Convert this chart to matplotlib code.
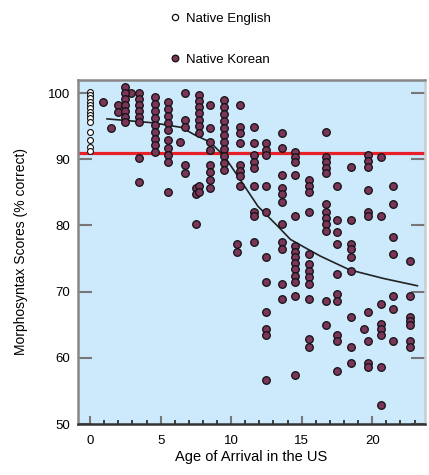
import matplotlib
matplotlib.use("Agg")
import matplotlib.pyplot as plt
from matplotlib.lines import Line2D
from matplotlib.ticker import MultipleLocator

plt.rcParams['font.family'] = ['Liberation Sans', 'DejaVu Sans']

# Native English speakers (all arrived at age 0)
eng_age = [0] * 14
eng_score = [100.2, 99.7, 99.2, 98.7, 98.2, 97.7, 97.2, 96.7, 96.2, 95.7,
             94.1, 92.9, 91.9, 91.3]

# Native Korean speakers, read column by column
kor_age = (
    [0.9, 1.5]
    + [2.0, 2.0, 2.9]
    + [2.5] * 7
    + [3.5] * 8
    + [4.6] * 9
    + [5.5] * 10
    + [6.4, 6.7, 6.7, 6.7, 6.7, 6.7, 7.5, 7.5, 7.5]
    + [7.7] * 9
    + [8.5] * 8
    + [9.5] * 11
    + [10.6] * 8 + [10.4, 10.4]
    + [11.6] * 9
    + [12.5] * 11
    + [13.6] * 11
    + [14.5] * 14
    + [15.5] * 12
    + [16.7] * 12
    + [17.5] * 10
    + [18.5] * 9
    + [19.4]
    + [19.7] * 10
    + [20.6] * 8
    + [21.5] * 7
    + [22.7] * 7
)
kor_score = (
    [98.6, 94.7]
    + [98.2, 97.1, 100.0]
    + [100.9, 100.0, 99.1, 98.2, 97.3, 96.4, 95.6]
    + [100.0, 99.1, 98.2, 97.3, 96.4, 95.6, 90.2, 86.6]
    + [99.4, 98.3, 97.3, 96.2, 95.2, 94.1, 93.1, 92.2, 91.1]
    + [98.6, 97.6, 96.5, 95.5, 94.4, 92.9, 91.7, 90.7, 89.6, 85.1]
    + [92.6, 100.0, 96.0, 94.9, 89.2, 88.0, 85.7, 84.7, 80.2]
    + [99.7, 98.8, 97.9, 97.0, 96.0, 95.0, 94.0, 85.9, 85.0]
    + [98.2, 94.7, 92.6, 91.4, 89.2, 88.1, 86.9, 85.7]
    + [98.9, 97.9, 96.8, 95.8, 94.7, 93.7, 92.6, 91.6, 90.5, 89.5, 88.4]
    + [98.2, 94.9, 94.0, 92.5, 89.2, 88.3, 87.4, 85.9, 77.2, 76.0]
    + [94.9, 92.5, 90.7, 89.6, 88.7, 85.9, 82.0, 81.4, 77.5]
    + [92.5, 91.4, 90.7, 85.9, 82.0, 75.2, 71.5, 67.0, 64.4, 63.4, 56.6]
    + [94.0, 91.7, 87.7, 85.7, 84.7, 83.6, 80.2, 77.5, 76.4, 71.2, 68.9]
    + [91.1, 90.4, 89.6, 87.7, 81.4, 76.9, 76.0, 75.2, 74.4, 73.4, 72.4,
       71.5, 69.4, 57.4]
    + [86.9, 85.9, 85.0, 82.0, 75.7, 74.2, 73.1, 72.2, 71.2, 68.9, 62.9, 61.7]
    + [94.1, 90.4, 89.6, 88.7, 88.0, 83.2, 82.1, 81.2, 80.2, 79.1, 68.6, 64.9]
    + [85.9, 80.9, 79.0, 77.2, 72.7, 69.7, 68.6, 63.4, 62.5, 58.0]
    + [88.9, 80.9, 77.2, 76.4, 75.2, 73.1, 66.2, 61.7, 59.2]
    + [64.4]
    + [90.7, 89.8, 88.9, 85.4, 82.1, 81.4, 67.0, 62.5, 59.2, 58.7]
    + [90.4, 81.4, 68.2, 65.2, 64.3, 63.4, 58.7, 52.9]
    + [85.9, 83.2, 78.2, 75.7, 69.4, 67.4, 62.5]
    + [74.6, 69.4, 66.2, 65.6, 64.9, 62.5, 61.7]
)

# fitted curve
fit_age = [1.2, 4.5, 6.5, 7.4, 8.5, 9.5, 10.3, 11.9, 13.3, 14.2, 15.2, 16.3,
           18.4, 20.8, 23.2]
fit_score = [96.1, 95.5, 94.8, 93.7, 92.6, 90.5, 88.0, 82.9, 79.9, 77.9, 76.7,
             75.4, 73.3, 72.0, 70.9]

cutoff = 91

fig = plt.figure(figsize=(4.29, 4.75), dpi=100)
ax = fig.add_axes([0.182, 0.107, 0.809, 0.725])
ax.set_facecolor('#cde9fc')

ax.axhline(cutoff, color='#e8202a', lw=2.3, zorder=2)
ax.plot(fit_age, fit_score, color='#222222', lw=1.2, zorder=3)
ax.scatter(kor_age, kor_score, s=30, facecolor='#7a3558', edgecolor='#111111',
           linewidth=0.9, zorder=4)
ax.scatter(eng_age, eng_score, s=18, facecolor='white', edgecolor='#111111',
           linewidth=0.8, zorder=4)

ax.set_xlim(-0.85, 23.75)
ax.set_ylim(50, 102)
ax.xaxis.set_major_locator(MultipleLocator(5))
ax.xaxis.set_minor_locator(MultipleLocator(1))
ax.yaxis.set_major_locator(MultipleLocator(10))
ax.tick_params(axis='x', which='major', direction='in', length=6, width=1.5,
               color='#777777', labelsize=9.5, pad=8)
ax.tick_params(axis='x', which='minor', direction='in', length=3, width=1.2,
               color='#222222')
ax.tick_params(axis='y', which='major', direction='in', length=10, width=1.5,
               color='#777777', labelsize=9.5, right=True, pad=6)

for side in ['left', 'top', 'right']:
    ax.spines[side].set_color('#888888')
    ax.spines[side].set_linewidth(1.8)
ax.spines['bottom'].set_color('#333333')
ax.spines['bottom'].set_linewidth(1.8)
ax.spines['right'].set_color('#cccccc')

ax.set_xlabel('Age of Arrival in the US', fontsize=10.5, labelpad=2)
ax.set_ylabel('Morphosyntax Scores (% correct)', fontsize=10, labelpad=14)

handles = [
    Line2D([], [], ls='none', marker='o', ms=4.5, mfc='white', mec='#111111', mew=0.9),
    Line2D([], [], ls='none', marker='o', ms=4.8, mfc='#7a3558', mec='#111111', mew=0.9),
]
fig.legend(handles, ['Native English', 'Native Korean'], loc='upper left',
           bbox_to_anchor=(0.365, 0.998), frameon=False, fontsize=9.5,
           labelspacing=2.15, handletextpad=0.3, handlelength=1.0)

fig.savefig('out.png', dpi=100)
